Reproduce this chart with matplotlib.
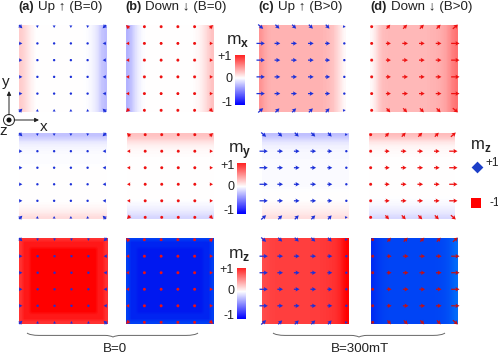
import numpy as np
import matplotlib
matplotlib.use('Agg')
import matplotlib.pyplot as plt
from matplotlib.colors import LinearSegmentedColormap
from matplotlib.path import Path
from matplotlib.patches import PathPatch, Circle

plt.rcParams['font.family'] = ['Liberation Sans', 'DejaVu Sans']
plt.rcParams['mathtext.fontset'] = 'custom'
plt.rcParams['mathtext.rm'] = 'Liberation Sans'
plt.rcParams['mathtext.bf'] = 'Liberation Sans:bold'

W, H = 498, 356

# ====== background profiles (24 samples) ======
# m_x along x (left -> right)
mx_a = [.20, .16, .10, .05, .01, 0, 0, 0, 0, 0, 0, 0, 0, 0, 0, 0, 0, 0, -.01, -.03, -.06, -.12, -.22, -.26]
mx_b = [-.30, -.24, -.13, -.06, -.02, 0, 0, 0, 0, 0, 0, 0, 0, 0, 0, 0, 0, 0, .01, .03, .06, .12, .18, .24]
mx_c = [.42, .36, .32, .30, .30, .30, .30, .30, .30, .30, .30, .30, .30, .30, .30, .30, .30, .29, .28, .26, .23, .17, .10, .03]
mx_d = [.03, .10, .20, .26, .27, .28, .28, .28, .28, .28, .28, .28, .28, .28, .28, .28, .29, .30, .31, .33, .36, .42, .50, .55]

# m_y along y (top -> bottom)
my_a = [-.24, -.18, -.09, -.05, -.03, -.02, -.01, -.01, -.01, 0, 0, 0, 0, 0, 0, 0, 0, 0, 0, .01, .03, .05, .09, .14]
my_b = [.24, .20, .11, .06, .03, .02, .01, 0, 0, 0, 0, 0, 0, 0, 0, 0, 0, 0, 0, -.02, -.04, -.07, -.11, -.16]
my_c = [-.25, -.18, -.10, -.06, -.04, -.03, -.03, -.02, -.02, -.02, -.02, -.02, -.02, -.02, -.02, -.01, 0, 0, 0, .02, .04, .06, .09, .13]
my_d = [.26, .20, .10, .05, .03, .02, .01, 0, 0, 0, 0, 0, 0, 0, 0, 0, 0, 0, -.01, -.02, -.04, -.07, -.10, -.15]

# m_z along x, the B=0 pair also has the ring along y
mz_a = [.80, .90, .90, 1, 1, 1, 1, 1, 1, 1, 1, 1, 1, 1, 1, 1, 1, 1, 1, 1, 1, .90, .90, .80]
mz_b = [-.70, -.90, -.90, -1, -1, -1, -1, -1, -1, -1, -1, -1, -1, -1, -1, -1, -1, -1, -1, -1, -1, -.90, -.90, -.70]
mz_c = [.70, .72, .74, .75, .75, .75, .75, .75, .75, .75, .75, .75, .75, .76, .76, .76, .77, .78, .79, .80, .82, .86, .94, 1]
mz_d = [-.85, -.78, -.72, -.68, -.66, -.65, -.65, -.65, -.65, -.65, -.65, -.65, -.65, -.65, -.65, -.65, -.65, -.65, -.64, -.63, -.60, -.55, -.45, -.35]

# ====== arrows (rows top -> bottom, 6x6 grid) ======
U_a = [[.20, .02, 0, 0, -.02, -.20],
       [.20, 0, 0, 0, 0, -.20],
       [.20, 0, 0, 0, 0, -.20],
       [.20, 0, 0, 0, 0, -.20],
       [.20, 0, 0, 0, 0, -.20],
       [.20, .02, 0, 0, -.02, -.20]]
V_a = [[-.20, -.16, -.16, -.16, -.16, -.20],
       [0, 0, 0, 0, 0, 0],
       [0, 0, 0, 0, 0, 0],
       [0, 0, 0, 0, 0, 0],
       [0, 0, 0, 0, 0, 0],
       [.20, .16, .16, .16, .16, .20]]
U_b = [[-.20, -.02, 0, 0, .02, .20],
       [-.20, 0, 0, 0, 0, .20],
       [-.20, 0, 0, 0, 0, .20],
       [-.20, 0, 0, 0, 0, .20],
       [-.20, 0, 0, 0, 0, .20],
       [-.20, -.02, 0, 0, .02, .20]]
V_b = [[.20, .16, .16, .16, .16, .20],
       [0, 0, 0, 0, 0, 0],
       [0, 0, 0, 0, 0, 0],
       [0, 0, 0, 0, 0, 0],
       [0, 0, 0, 0, 0, 0],
       [-.20, -.16, -.16, -.16, -.16, -.20]]
U_c = [[.30, .24, .24, .24, .22, .16],
       [.50, .34, .34, .34, .30, 0],
       [.50, .34, .34, .34, .30, 0],
       [.50, .34, .34, .34, .30, 0],
       [.50, .34, .34, .34, .30, 0],
       [.30, .24, .24, .24, .22, .16]]
V_c = [[-.26, -.24, -.24, -.24, -.24, -.03],
       [0, 0, 0, 0, 0, 0],
       [0, 0, 0, 0, 0, 0],
       [0, 0, 0, 0, 0, 0],
       [0, 0, 0, 0, 0, 0],
       [.26, .24, .24, .24, .24, .03]]
U_d = [[.16, .22, .24, .24, .24, .30],
       [0, .30, .34, .34, .34, .50],
       [0, .30, .34, .34, .34, .50],
       [0, .30, .34, .34, .34, .50],
       [0, .30, .34, .34, .34, .50],
       [.16, .22, .24, .24, .24, .30]]
V_d = [[.03, .24, .24, .24, .24, .26],
       [0, 0, 0, 0, 0, 0],
       [0, 0, 0, 0, 0, 0],
       [0, 0, 0, 0, 0, 0],
       [0, 0, 0, 0, 0, 0],
       [-.03, -.24, -.24, -.24, -.24, -.26]]

BLUE = '#1c30d8'
RED = '#ee1111'
DARKRED = '#c01018'

# mz<0 in the picture runs pure blue -> azure, not towards white
azure = LinearSegmentedColormap.from_list('azure', ['#0018f0', '#0098ff'])

# panel boxes in pixels (left, right)
row_y = [(25, 112), (133, 219), (238, 324)]
row_x = [[(19, 106), (126, 213), (259, 346), (370, 457)],
         [(19, 106), (127, 213), (262, 348), (369, 455)],
         [(19, 107), (126, 213), (262, 348), (371, 457)]]

fig = plt.figure(figsize=(W/100, H/100), dpi=100)


def px_axes(x0, x1, y0, y1):
    return fig.add_axes([x0/W, 1 - y1/H, (x1 - x0)/W, (y1 - y0)/H])


def panel(row, col, img, U, V, color, cmap='bwr', vmax=1):
    x0, x1 = row_x[row][col]
    y0, y1 = row_y[row]
    ax = px_axes(x0, x1, y0, y1)
    ext = (-0.1, 5.1, -0.1, 5.1)
    ax.imshow(img, cmap=cmap, vmin=-1, vmax=vmax, extent=ext, aspect='auto',
              interpolation='bilinear', origin='upper')
    X, Y = np.meshgrid(np.arange(6), np.arange(6)[::-1])
    dot = 2.6 if color != BLUE else 2.1
    ax.quiver(X, Y, np.array(U), np.array(V), color=color, angles='xy',
              scale_units='xy', scale=1, units='dots', width=1.25, pivot='mid',
              headwidth=3.6, headlength=3.2, headaxislength=2.8,
              minlength=dot, minshaft=1, clip_on=False)
    ax.set_xlim(-0.1, 5.1)
    ax.set_ylim(-0.1, 5.1)
    ax.axis('off')


Us = [U_a, U_b, U_c, U_d]
Vs = [V_a, V_b, V_c, V_d]
colors = [BLUE, RED, BLUE, RED]

for col, prof in enumerate([mx_a, mx_b, mx_c, mx_d]):
    panel(0, col, np.tile(np.array(prof), (24, 1)), Us[col], Vs[col], colors[col])
for col, prof in enumerate([my_a, my_b, my_c, my_d]):
    panel(1, col, np.tile(np.array(prof)[:, None], (1, 24)), Us[col], Vs[col], colors[col])

# mz: B=0 has a ring on all four sides, B>0 only varies along x
ring_a = np.minimum.outer(np.array(mz_a), np.array(mz_a))
ring_b = np.maximum.outer(np.array(mz_b), np.array(mz_b))
panel(2, 0, ring_a, U_a, V_a, BLUE)
panel(2, 1, ring_b, U_b, V_b, RED, cmap=azure, vmax=0)
panel(2, 2, np.tile(np.array(mz_c), (24, 1)), U_c, V_c, BLUE)
panel(2, 3, np.tile(np.array(mz_d), (24, 1)), U_d, V_d, DARKRED, cmap=azure, vmax=0)

# ---- colour bars ----
cbars = [(235, 245, 55, 105), (237, 246, 163, 214), (237, 246, 268, 319)]
for x0, x1, y0, y1 in cbars:
    cax = px_axes(x0, x1, y0, y1)
    cax.imshow(np.linspace(.85, -1, 64)[:, None], cmap='bwr', vmin=-1, vmax=1, aspect='auto')
    cax.axis('off')

# ---- overlay in pixel coordinates ----
ov = fig.add_axes([0, 0, 1, 1])
ov.set_xlim(0, W)
ov.set_ylim(H, 0)
ov.axis('off')
ov.patch.set_alpha(0)
TC = '#222222'


def txt(x, y, s, size=9, ha='left', **kw):
    ov.text(x, y, s, fontsize=size, ha=ha, va='center', color=TC, **kw)


# titles
titles = [(18, '(a)', 38, 'Up ↑ (B=0)'), (125, '(b)', 145, 'Down ↓ (B=0)'),
          (258, '(c)', 278, 'Up ↑ (B>0)'), (370, '(d)', 391, 'Down ↓ (B>0)')]
for x, tag, x2, rest in titles:
    txt(x, 7, tag, size=9.2, fontweight='bold')
    txt(x2, 7, rest, size=9.6)

# colour bar labels
txt(226, 41, r'm$_{\mathbf{x}}$', size=12.5)
txt(228, 151, r'm$_{\mathbf{y}}$', size=12.5)
txt(228, 255, r'm$_{\mathbf{z}}$', size=12.5)
for lab, x, y in [('+1', 232, 57), ('0', 232, 79), ('-1', 232, 103),
                  ('+1', 235, 166), ('0', 234, 187), ('-1', 234, 211),
                  ('+1', 234, 270), ('0', 234, 291), ('-1', 234, 316)]:
    txt(x, y, lab, size=9, ha='right')

# m_z legend
txt(470, 146, r'm$_{\mathbf{z}}$', size=12)
ov.scatter([477], [167], marker='D', s=36, color='#1c3fc8', linewidths=0)
ov.scatter([476], [203], marker='s', s=60, color='#ff0000', linewidths=0)
txt(485, 163, '+1', size=8.5)
txt(489, 203, '-1', size=8.5)

# axis triad
ov.add_patch(Circle((9, 120), 5.5, fill=False, ec='#222222', lw=0.7))
ov.add_patch(Circle((9, 120), 1.8, color='#111111'))
ov.annotate('', xy=(9, 91), xytext=(9, 115),
            arrowprops=dict(arrowstyle='-|>', color='#222222', lw=0.7, mutation_scale=6, shrinkA=0, shrinkB=0))
ov.annotate('', xy=(39, 120), xytext=(14, 120),
            arrowprops=dict(arrowstyle='-|>', color='#222222', lw=0.7, mutation_scale=6, shrinkA=0, shrinkB=0))
txt(6, 82, 'y', size=11, ha='center')
txt(44, 127, 'x', size=11, ha='center')
txt(3.5, 131, 'z', size=11, ha='center')


# braces
def brace(x0, xm, x1, y0, y1):
    ymid = y0 + (y1 - y0)*0.6
    verts = [(x0, y0), (x0 + 3, ymid), (x0 + 12, ymid),
             (xm - 8, ymid), (xm - 3, ymid), (xm, y1),
             (xm + 3, ymid), (xm + 8, ymid),
             (x1 - 12, ymid), (x1 - 3, ymid), (x1, y0)]
    codes = [Path.MOVETO, Path.CURVE3, Path.CURVE3, Path.LINETO,
             Path.CURVE3, Path.CURVE3, Path.CURVE3, Path.CURVE3,
             Path.LINETO, Path.CURVE3, Path.CURVE3]
    ov.add_patch(PathPatch(Path(verts, codes), fill=False, ec='#666666', lw=0.7))


brace(27, 113, 198, 333, 337)
brace(273, 359, 445, 333, 337)
txt(115, 349, 'B=0', size=9.6, ha='center')
txt(360, 349, 'B=300mT', size=9.6, ha='center')

fig.savefig('out.png', dpi=100)
